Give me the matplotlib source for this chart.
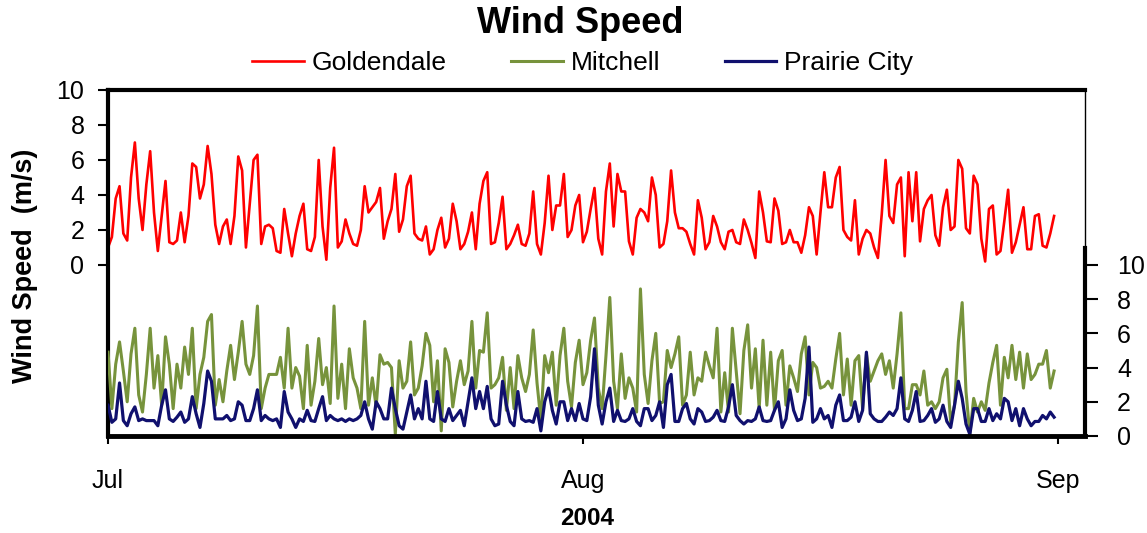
import numpy as np
import pandas as pd
import matplotlib
matplotlib.use('Agg')
import matplotlib.pyplot as plt
import matplotlib.dates as mdates

plt.rcParams['font.family'] = ['Liberation Sans', 'DejaVu Sans']

# 6-hourly wind speed (m/s), 1 Jul - 31 Aug 2004
goldendale = [
    1.0, 1.6, 3.8, 4.5, 1.8, 1.4, 5.0, 7.0, 3.8, 2.0, 4.6, 6.5, 3.0, 0.8, 2.8, 4.8, 1.3, 1.2, 1.4, 3.0,
    1.3, 2.8, 5.8, 5.6, 3.8, 4.6, 6.8, 5.2, 2.3, 1.2, 2.2, 2.6, 1.2, 2.8, 6.2, 5.4, 1.0, 3.5, 6.0, 6.3,
    1.2, 2.2, 2.3, 2.1, 0.8, 0.7, 3.2, 1.8, 0.5, 1.8,
    2.8, 3.5, 0.9, 0.8, 1.6, 6.0, 2.2, 0.3, 4.4, 6.7, 1.0, 1.35, 2.6, 1.8, 1.2, 1.1, 2.0, 4.5, 3.0, 3.3,
    3.6, 4.4, 1.5, 2.5, 3.2, 5.2, 1.9, 2.6, 4.5, 5.1, 1.8, 1.5, 1.4, 2.2, 0.6, 0.9, 2.0, 2.7, 1.0, 1.5,
    3.5, 2.5, 0.9, 1.2, 1.9, 3.0, 0.9, 3.5, 4.8, 5.3,
    1.2, 1.3, 2.4, 3.9, 0.9, 1.2, 1.7, 2.3, 1.2, 1.1, 1.8, 4.2, 1.2, 0.6, 2.4, 5.1, 2.0, 3.4, 3.4, 5.2,
    1.6, 2.0, 3.4, 4.0, 1.3, 1.9, 3.2, 4.4, 1.5, 0.6, 4.2, 5.8, 2.2, 5.2, 4.2, 4.2, 1.35, 0.6, 2.7, 3.2,
    3.0, 2.5, 5.0, 4.0, 1.0, 1.2, 2.5, 5.4, 3.0, 2.1,
    2.1, 1.9, 1.2, 0.6, 3.7, 2.7, 0.9, 1.3, 2.8, 2.2, 1.3, 0.9, 1.9, 2.0, 1.3, 1.2, 2.6, 2.0, 1.25, 0.4,
    4.2, 3.0, 1.35, 1.3, 3.8, 3.1, 1.2, 1.3, 2.0, 1.3, 1.3, 0.7, 1.7, 3.3, 2.8, 0.6, 3.0, 5.3, 3.3, 3.3,
    5.0, 5.6, 2.0, 1.6, 1.4, 3.7, 0.6, 1.5, 2.0, 1.8,
    1.0, 0.4, 2.9, 6.0, 2.8, 2.4, 4.6, 5.0, 0.5, 5.3, 2.5, 5.3, 1.35, 3.2, 3.7, 4.0, 1.7, 1.1, 3.3, 4.3,
    2.0, 2.2, 6.0, 5.5, 2.1, 1.8, 5.1, 4.6, 1.5, 0.2, 3.2, 3.4, 0.6, 0.8, 2.5, 4.3, 0.7, 1.3, 2.3, 3.3,
    0.9, 0.9, 2.8, 2.9, 1.1, 1.0, 1.8, 2.8,
]
mitchell = [
    4.9, 1.6, 4.2, 5.5, 3.8, 2.0, 4.8, 6.3, 2.4, 1.4, 3.6, 6.3, 2.8, 4.7, 1.8, 5.8, 4.2, 1.6, 4.2, 2.8,
    5.2, 3.6, 6.3, 1.6, 3.6, 4.6, 6.7, 7.1, 1.8, 3.3, 2.0, 3.8, 5.3, 3.3, 4.9, 6.7, 4.2, 3.6, 4.7, 7.6,
    1.6, 2.8, 3.6, 3.6, 3.6, 4.6, 2.8, 6.3, 2.8, 4.0,
    3.5, 1.6, 5.3, 1.8, 3.2, 5.7, 3.0, 4.0, 1.9, 7.6, 2.2, 4.2, 1.6, 5.1, 3.4, 2.8, 1.6, 6.7, 1.8, 3.4,
    1.7, 4.75, 4.2, 4.3, 4.0, 0.1, 4.4, 2.8, 3.2, 5.5, 2.4, 2.8, 4.1, 6.0, 5.3, 2.0, 4.4, 0.3, 5.1, 4.3,
    1.7, 3.2, 4.4, 3.0, 3.8, 6.7, 2.8, 5.0, 4.9, 7.2,
    2.8, 3.0, 3.4, 4.6, 1.5, 4.0, 1.6, 4.7, 3.4, 2.6, 3.6, 6.2, 3.1, 0.9, 4.7, 3.7, 4.9, 1.8, 4.7, 6.3,
    3.2, 1.7, 4.3, 5.6, 3.0, 3.7, 5.6, 6.9, 2.8, 1.6, 4.7, 8.1, 3.2, 1.6, 4.8, 2.2, 3.4, 2.8, 1.4, 8.6,
    3.6, 1.9, 4.4, 6.0, 1.9, 2.0, 5.0, 4.0, 4.8, 5.8,
    1.8, 2.4, 4.9, 2.4, 3.4, 3.2, 4.9, 4.1, 3.4, 6.3, 1.4, 3.7, 1.4, 6.3, 3.8, 1.3, 5.0, 6.5, 2.8, 5.1,
    1.6, 5.6, 1.8, 4.9, 1.5, 4.4, 5.0, 1.8, 4.1, 3.4, 2.6, 4.8, 5.8, 2.4, 4.3, 4.0, 2.8, 2.9, 3.2, 2.8,
    4.5, 6.0, 2.4, 4.5, 1.8, 4.4, 4.7, 1.6, 4.8, 3.2,
    3.8, 4.4, 4.8, 3.6, 4.4, 2.8, 4.8, 7.2, 1.6, 1.6, 3.0, 3.0, 2.4, 3.8, 1.8, 2.0, 1.6, 2.0, 3.4, 3.9,
    0.8, 1.8, 5.5, 7.8, 2.6, 0.1, 2.2, 1.4, 2.0, 1.5, 3.1, 4.3, 5.3, 1.8, 4.6, 3.4, 5.3, 3.3, 4.9, 2.8,
    4.8, 3.3, 3.6, 4.2, 4.2, 5.0, 2.8, 3.8,
]
prairie_city = [
    1.8, 0.8, 1.0, 3.1, 0.9, 0.6, 1.3, 1.7, 0.9, 1.0, 0.9, 0.9, 0.9, 0.6, 1.8, 2.7, 1.0, 0.85, 1.1, 1.4,
    0.8, 1.0, 2.3, 1.3, 0.5, 1.9, 3.8, 3.2, 1.0, 1.0, 1.0, 1.2, 0.9, 1.0, 2.0, 1.8, 0.9, 0.9, 1.6, 2.7,
    0.9, 1.2, 1.0, 0.9, 1.0, 0.5, 2.6, 1.4, 1.0, 0.5,
    1.0, 0.85, 1.5, 0.9, 0.85, 1.6, 2.3, 0.9, 1.2, 1.0, 0.9, 1.0, 0.85, 1.0, 0.9, 1.0, 1.2, 2.0, 1.0, 0.4,
    2.0, 1.6, 1.0, 1.0, 2.8, 1.6, 0.6, 0.4, 1.4, 2.4, 1.0, 1.6, 1.0, 3.2, 1.0, 0.85, 2.6, 1.0, 0.85, 1.6,
    0.9, 1.2, 1.5, 0.6, 2.0, 3.4, 1.6, 2.6, 1.6, 2.9,
    1.0, 0.6, 0.7, 3.2, 1.8, 0.85, 0.6, 2.6, 1.0, 0.85, 0.9, 0.8, 1.6, 0.3, 2.0, 2.8, 1.5, 0.7, 2.0, 2.0,
    0.9, 1.6, 0.9, 1.9, 1.0, 0.9, 2.3, 5.1, 1.8, 0.7, 2.0, 2.8, 0.85, 1.5, 0.9, 0.85, 1.0, 1.6, 0.85, 0.6,
    1.6, 1.6, 0.9, 1.2, 2.0, 0.5, 3.0, 3.6, 0.85, 0.85,
    1.6, 1.9, 1.0, 0.7, 1.6, 1.4, 0.85, 0.9, 1.1, 1.5, 0.9, 0.85, 1.7, 3.0, 1.2, 0.9, 0.7, 0.9, 0.85, 1.0,
    1.7, 0.9, 0.85, 0.9, 1.5, 2.0, 0.5, 1.0, 2.7, 1.5, 0.9, 1.0, 2.2, 5.2, 0.8, 1.0, 1.6, 1.0, 1.2, 0.5,
    1.8, 2.4, 0.9, 0.9, 1.1, 2.0, 0.85, 1.5, 4.9, 1.3,
    1.0, 0.85, 0.85, 1.1, 1.4, 1.2, 1.6, 3.4, 1.0, 0.85, 1.5, 2.6, 0.85, 0.9, 1.2, 1.6, 0.8, 1.0, 1.8, 0.85,
    0.5, 1.8, 3.2, 2.2, 0.7, 0.1, 1.6, 1.6, 0.85, 0.85, 1.6, 0.9, 1.3, 1.0, 2.2, 2.0, 0.9, 1.6, 0.6, 1.6,
    1.0, 0.6, 0.85, 0.85, 1.2, 1.0, 1.4, 1.1,
]
times = pd.date_range('2004-07-01', periods=len(goldendale), freq='6h')

red = '#ff0000'
green = '#77933c'
navy = '#10106e'

fig = plt.figure(figsize=(11.47, 5.33), dpi=100)
ax1 = fig.add_axes([0.0942, 0.182, 0.8518, 0.6492])
ax2 = ax1.twinx()

l1, = ax1.plot(times, goldendale, color=red, lw=1.9)
l2, = ax2.plot(times, mitchell, color=green, lw=2.2)
l3, = ax2.plot(times, prairie_city, color=navy, lw=2.3)

# Goldendale on the upper half, the other two on the lower half
ax1.set_ylim(-9.771, 10)
ax1.set_yticks(range(0, 11, 2))
ax2.set_ylim(0, 20.23)
ax2.set_yticks(range(0, 11, 2))

ax1.set_xlim(pd.Timestamp('2004-07-01'), pd.Timestamp('2004-09-02 18:30'))
ax1.xaxis.set_major_locator(mdates.MonthLocator())
ax1.xaxis.set_major_formatter(mdates.DateFormatter('%b'))

ax1.tick_params(axis='y', labelsize=18, length=7, width=1.5, pad=10)
ax2.tick_params(axis='y', labelsize=18, length=9, width=1.5, pad=14)
ax1.tick_params(axis='x', labelsize=18, length=6, width=1.5, pad=18)

for s in ['top', 'left']:
    ax1.spines[s].set_linewidth(3)
ax1.spines['right'].set_linewidth(1)
ax1.spines['bottom'].set_visible(False)
ax2.spines['top'].set_visible(False)
ax2.spines['left'].set_visible(False)
ax2.spines['bottom'].set_linewidth(3.5)
ax2.spines['right'].set_linewidth(3)
ax2.spines['right'].set_bounds(0, 11)

ax1.set_ylabel('Wind Speed  (m/s)', fontsize=19.5, fontweight='bold')
ax1.yaxis.set_label_coords(-0.0716, 0.491)
ax1.set_xlabel('2004', fontsize=17.5, fontweight='bold')
ax1.xaxis.set_label_coords(0.490, -0.205)
fig.text(0.506, 0.955, 'Wind Speed', ha='center', va='center', fontsize=26, fontweight='bold')

fig.legend([l1, l2, l3], ['Goldendale', 'Mitchell', 'Prairie City'], loc='center',
           bbox_to_anchor=(0.508, 0.882), ncol=3, frameon=False, fontsize=19,
           handlelength=1.95, handletextpad=0.3, columnspacing=2.45)

fig.savefig('out.png', dpi=100)
